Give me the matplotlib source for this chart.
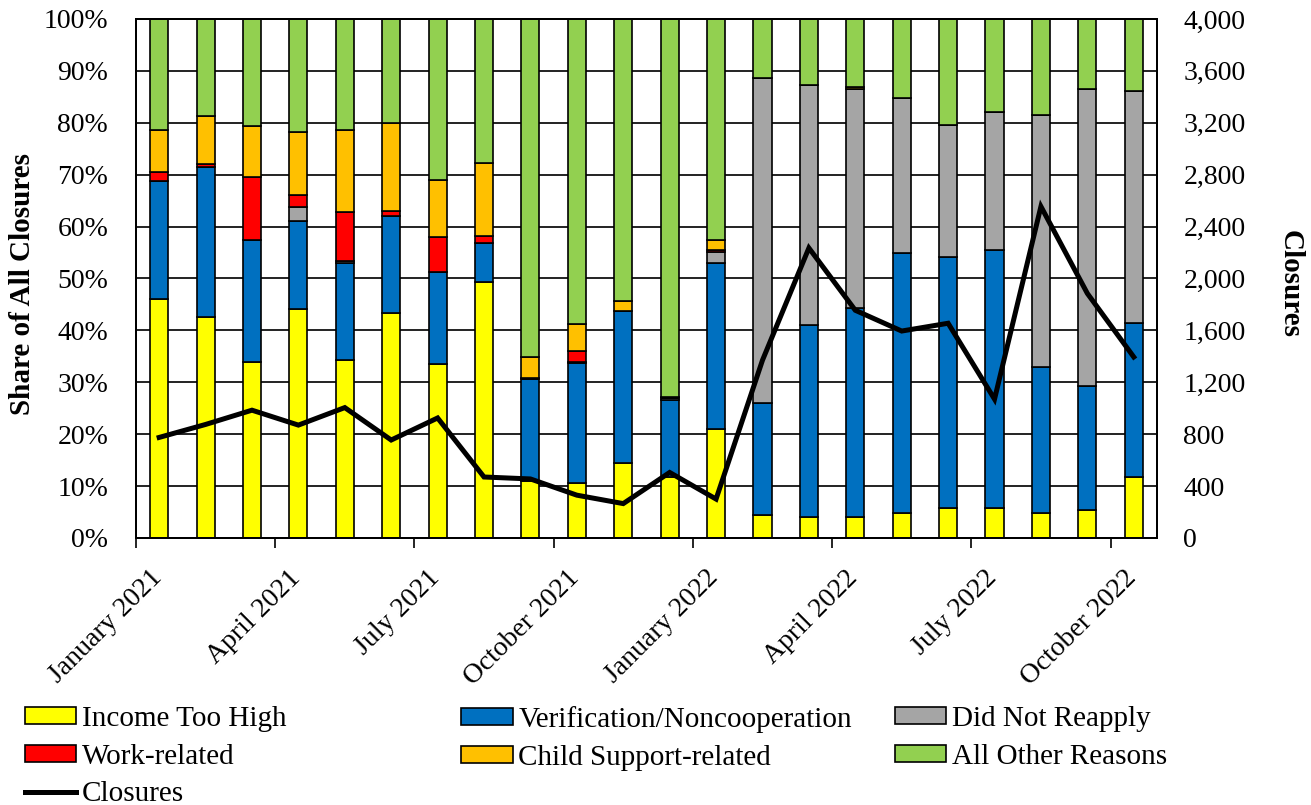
import matplotlib.pyplot as plt
import matplotlib.patches as mpatches
import matplotlib.lines as mlines
import matplotlib.transforms as mtransforms
import numpy as np
from matplotlib.ticker import FuncFormatter, MultipleLocator

plt.rcParams["font.family"] = ["Liberation Serif", "DejaVu Serif"]

months = [
    "January 2021", "February 2021", "March 2021", "April 2021", "May 2021",
    "June 2021", "July 2021", "August 2021", "September 2021", "October 2021",
    "November 2021", "December 2021", "January 2022", "February 2022",
    "March 2022", "April 2022", "May 2022", "June 2022", "July 2022",
    "August 2022", "September 2022", "October 2022",
]

# shares of all closures, in percent
income_too_high = [46.0, 42.6, 33.9, 44.1, 34.3, 43.4, 33.5, 49.3, 11.0, 10.5, 14.5,
                   11.8, 21.0, 4.4, 4.1, 4.1, 4.9, 5.7, 5.7, 4.9, 5.3, 11.8]
verification = [22.8, 28.9, 23.6, 17.0, 18.7, 18.6, 17.8, 7.5, 19.6, 23.2, 29.3,
                14.8, 32.0, 21.7, 36.9, 40.3, 50.1, 48.4, 49.7, 28.1, 24.0, 29.6]
did_not_reapply = [0.0, 0.0, 0.0, 2.7, 0.4, 0.0, 0.0, 0.0, 0.0, 0.3, 0.0,
                   0.3, 2.2, 62.6, 46.2, 42.2, 29.8, 25.5, 26.7, 48.5, 57.2, 44.7]
work_related = [1.8, 0.5, 12.0, 2.2, 9.4, 1.1, 6.6, 1.4, 0.3, 2.1, 0.0,
                0.0, 0.2, 0.0, 0.0, 0.0, 0.0, 0.0, 0.0, 0.0, 0.0, 0.0]
child_support = [8.0, 9.4, 9.9, 12.3, 15.8, 16.8, 11.1, 14.1, 3.9, 5.1, 1.9,
                 0.3, 2.0, 0.0, 0.0, 0.3, 0.0, 0.0, 0.0, 0.0, 0.0, 0.0]
other_reasons = [21.4, 18.6, 20.6, 21.7, 21.4, 20.1, 31.0, 27.7, 65.2, 58.8, 54.3,
                 72.8, 42.6, 11.3, 12.8, 13.1, 15.2, 20.4, 17.9, 18.5, 13.5, 13.9]

closures = [775, 875, 985, 870, 1005, 755, 925, 470, 455, 330, 265,
            505, 300, 1370, 2235, 1755, 1595, 1655, 1070, 2555, 1885, 1395]

series = [
    ("Income Too High", income_too_high, "#FFFF00"),
    ("Verification/Noncooperation", verification, "#0070C0"),
    ("Did Not Reapply", did_not_reapply, "#A5A5A5"),
    ("Work-related", work_related, "#FF0000"),
    ("Child Support-related", child_support, "#FFC000"),
    ("All Other Reasons", other_reasons, "#92D050"),
]

fs = 20

fig = plt.figure(figsize=(13.11, 8.05), dpi=100)
ax = fig.add_axes([0.1037, 0.3317, 0.7788, 0.6447])

x = np.arange(len(months))
bottom = np.zeros(len(months))
handles = {}
for name, vals, color in series:
    vals = np.array(vals)
    ax.bar(x, vals, 0.39, bottom=bottom, color=color, edgecolor="black",
           linewidth=1.2, label=name)
    handles[name] = mpatches.Patch(facecolor=color, edgecolor="black", linewidth=1.2)
    bottom += vals

ax.set_xlim(-0.5, len(months) - 0.5)
ax.set_ylim(0, 100)
ax.yaxis.set_major_locator(MultipleLocator(10))
ax.yaxis.set_major_formatter(FuncFormatter(lambda v, p: "{:.0f}%".format(v)))
ax.set_axisbelow(True)
ax.grid(True, axis="y", color="#222222", linewidth=1.4)
ax.tick_params(axis="y", length=0, labelsize=fs, pad=20)

tick_pos = np.arange(0, len(months), 3) - 0.5
ax.set_xticks(tick_pos)
ax.set_xticklabels([months[i] for i in range(0, len(months), 3)], rotation=45,
                   ha="right", va="center", rotation_mode="anchor", fontsize=fs)
ax.tick_params(axis="x", length=7, width=1.2, direction="out", pad=19)
shift = mtransforms.ScaledTranslation(0.22, 0, fig.dpi_scale_trans)
for lbl in ax.get_xticklabels():
    lbl.set_transform(lbl.get_transform() + shift)
for sp in ax.spines.values():
    sp.set_linewidth(1.4)
    sp.set_color("black")

ax.set_ylabel("Share of All Closures", fontsize=21, fontweight="bold",
              ha="center", va="center")
ax.yaxis.set_label_coords(-0.1107, 0.49)

ax2 = ax.twinx()
ax2.plot(x, closures, color="black", linewidth=3.6, solid_joinstyle="miter")
ax2.set_ylim(0, 4000)
ax2.yaxis.set_major_locator(MultipleLocator(400))
ax2.yaxis.set_major_formatter(FuncFormatter(lambda v, p: "{:,.0f}".format(v)))
ax2.tick_params(axis="y", length=0, labelsize=fs, pad=19)
ax2.set_ylabel("Closures", fontsize=21, fontweight="bold", rotation=270,
               ha="center", va="center")
ax2.yaxis.set_label_coords(1.130, 0.49)
for sp in ax2.spines.values():
    sp.set_linewidth(1.4)

line_handle = mlines.Line2D([], [], color="black", linewidth=3.6)

legend_cols = [
    (0.019, ["Income Too High", "Work-related", "Closures"]),
    (0.352, ["Verification/Noncooperation", "Child Support-related"]),
    (0.683, ["Did Not Reapply", "All Other Reasons"]),
]
for xpos, names in legend_cols:
    hs = [line_handle if n == "Closures" else handles[n] for n in names]
    fig.legend(hs, names, loc="upper left", bbox_to_anchor=(xpos, 0.123),
               frameon=False, fontsize=21, handlelength=1.75, handleheight=0.52,
               handletextpad=0.2, labelspacing=0.4, borderaxespad=0,
               borderpad=0)

fig.savefig("out.png", dpi=100)
